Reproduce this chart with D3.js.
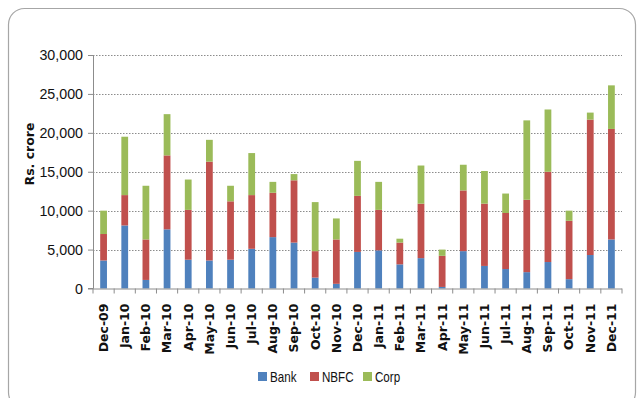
<!DOCTYPE html>
<html>
<head>
<meta charset="utf-8">
<script src="https://cdn.jsdelivr.net/npm/d3@7"></script>
<style>
  html, body { margin: 0; padding: 0; background: #fff; }
  svg { display: block; }
</style>
</head>
<body>
<svg id="chart" width="639" height="398"></svg>
<script>
// Monthly issuance by issuer type, Rs. crore
const months = ["Dec-09","Jan-10","Feb-10","Mar-10","Apr-10","May-10","Jun-10","Jul-10",
  "Aug-10","Sep-10","Oct-10","Nov-10","Dec-10","Jan-11","Feb-11","Mar-11","Apr-11",
  "May-11","Jun-11","Jul-11","Aug-11","Sep-11","Oct-11","Nov-11","Dec-11"];
const bank = [3600, 8100, 1100, 7600, 3700, 3600, 3700, 5100, 6600, 5900, 1400, 600, 4700,
  4900, 3100, 3900, 200, 4800, 2900, 2500, 2100, 3400, 1200, 4300, 6300];
const nbfc = [3400, 3900, 5200, 9500, 6400, 12700, 7500, 6900, 5700, 8000, 3400, 5700, 7200,
  5200, 2800, 7000, 4000, 7800, 8000, 7200, 9300, 11600, 7500, 17400, 14200];
const corp = [3000, 7500, 6900, 5300, 3900, 2800, 2000, 5400, 1400, 800, 6300, 2700, 4500,
  3600, 500, 4900, 800, 3300, 4200, 2500, 10200, 8000, 1300, 900, 5600];
const seriesNames = ["Bank", "NBFC", "Corp"];
const seriesColors = ["#4F81BD", "#C0504D", "#9BBB59"];
const yTicks = [0, 5000, 10000, 15000, 20000, 25000, 30000];

const rows = months.map((m, i) => ({ month: m, Bank: bank[i], NBFC: nbfc[i], Corp: corp[i] }));

const svg = d3.select("#chart");
const sans = "'Liberation Sans', Arial, sans-serif";
const tickSqueeze = 0.92;   // horizontal squeeze for the y tick labels
const legendSqueeze = 0.8;  // horizontal squeeze for the legend labels

// outer frame
svg.append("rect")
  .attr("x", 8.5).attr("y", 8.5)
  .attr("width", 627).attr("height", 400)
  .attr("rx", 16).attr("ry", 16)
  .attr("fill", "#fff")
  .attr("stroke", "#a6a6a6").attr("stroke-width", 1.2);

const plot = { left: 93, right: 622, top: 55, bottom: 288.5 };

const x = d3.scaleBand().domain(months)
  .range([plot.left, plot.right]).paddingInner(0.68).paddingOuter(0.34);
const y = d3.scaleLinear().domain([0, 30000]).range([plot.bottom, plot.top]);

// gridlines
svg.append("g")
  .selectAll("line")
  .data(yTicks.filter(t => t > 0))
  .join("line")
  .attr("x1", plot.left).attr("x2", plot.right)
  .attr("y1", d => Math.round(y(d)) + 0.5).attr("y2", d => Math.round(y(d)) + 0.5)
  .attr("stroke", "#8c8c8c").attr("stroke-width", 1)
  .attr("stroke-dasharray", "1.5,1.5");

// stacked bars
const stack = d3.stack().keys(seriesNames)(rows);
svg.append("g")
  .selectAll("g")
  .data(stack)
  .join("g")
  .attr("fill", (d, i) => seriesColors[i])
  .selectAll("rect")
  .data(d => d)
  .join("rect")
  .attr("x", d => x(d.data.month))
  .attr("width", x.bandwidth())
  .attr("y", d => y(d[1]))
  .attr("height", d => y(d[0]) - y(d[1]));

// y axis
const yAxis = svg.append("g")
  .attr("transform", `translate(${plot.left},0)`)
  .call(d3.axisLeft(y).tickValues(yTicks).tickFormat(d3.format(",")).tickSize(5).tickPadding(5));
yAxis.select(".domain").attr("stroke", "#8c8c8c").attr("d", `M-5,${plot.top + 0.5}H0.5V${plot.bottom}H-5`);
yAxis.selectAll(".tick line").attr("stroke", "#8c8c8c");
yAxis.selectAll("text")
  .attr("font-family", sans).attr("font-size", 15.5).attr("fill", "#111")
  .attr("x", -10 / tickSqueeze)
  .attr("transform", `scale(${tickSqueeze},1)`);

// x axis
const xAxis = svg.append("g")
  .attr("transform", `translate(0,${plot.bottom})`)
  .call(d3.axisBottom(x).tickSize(0).tickPadding(0));
xAxis.select(".domain").attr("stroke", "#8c8c8c").attr("d", `M${plot.left},0.5H${plot.right}`);
// category separators
xAxis.selectAll(".sep")
  .data(d3.range(months.length + 1))
  .join("line")
  .attr("class", "sep")
  .attr("x1", i => plot.left + i * x.step()).attr("x2", i => plot.left + i * x.step())
  .attr("y1", 0).attr("y2", 5)
  .attr("stroke", "#8c8c8c");
xAxis.selectAll(".tick text")
  .attr("font-family", "'DejaVu Sans', sans-serif").attr("font-weight", "bold")
  .attr("font-size", 12.5).attr("fill", "#111")
  .attr("text-anchor", "end")
  .attr("dy", "0.35em")
  .attr("transform", "translate(0,15) rotate(-90)");

// y axis title
svg.append("text")
  .attr("transform", "translate(34,154) rotate(-90)")
  .attr("text-anchor", "middle")
  .attr("font-family", "'DejaVu Sans', sans-serif").attr("font-weight", "bold")
  .attr("font-size", 12.5).attr("fill", "#111")
  .text("Rs. crore");

// legend
const legendX = [258, 310, 363];
const legend = svg.append("g")
  .selectAll("g")
  .data(seriesNames)
  .join("g")
  .attr("transform", (d, i) => `translate(${legendX[i]},372)`);
legend.append("rect")
  .attr("width", 9).attr("height", 9)
  .attr("fill", (d, i) => seriesColors[i]);
legend.append("text")
  .attr("x", 12 / legendSqueeze).attr("y", 9.5)
  .attr("transform", `scale(${legendSqueeze},1)`)
  .attr("font-family", sans).attr("font-size", 14.5).attr("fill", "#111")
  .text(d => d);
</script>
</body>
</html>
